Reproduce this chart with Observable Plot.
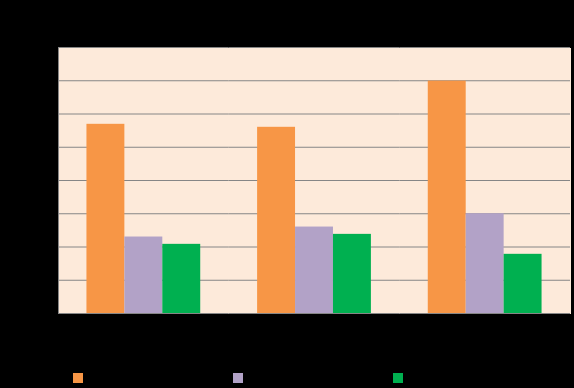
<!DOCTYPE html>
<html><head><meta charset="utf-8">
<script src="https://cdn.jsdelivr.net/npm/d3@7"></script>
<script src="https://cdn.jsdelivr.net/npm/@observablehq/plot@0.6"></script>
<style>
html,body{margin:0;padding:0;background:#000;width:574px;height:388px;overflow:hidden;font-family:"Liberation Sans",Arial,sans-serif}
#chart{position:absolute;left:0;top:0}
#legend{position:absolute;top:371px;left:73px;display:flex;font-size:12px;color:#000}
.item{width:160px;height:14px;display:flex;align-items:center;gap:6px}
.sw{width:10px;height:10px;flex:none}
</style></head>
<body><div id="chart"></div><div id="legend"></div>
<script>
const categories = ["Group 1", "Group 2", "Group 3"];
const seriesNames = ["Series 1", "Series 2", "Series 3"];
const series1 = [5.69, 5.60, 6.99];
const series2 = [2.30, 2.60, 3.00];
const series3 = [2.08, 2.38, 1.78];
const yTicks = [0, 1, 2, 3, 4, 5, 6, 7, 8];
const colors = ["#F79646", "#B2A2C7", "#00B050"];

const allSeries = [series1, series2, series3];
const data = [];
categories.forEach((c, i) => allSeries.forEach((s, j) => data.push({category: c, series: seriesNames[j], value: s[i]})));

const chart = Plot.plot({
  width: 574,
  height: 360,
  marginLeft: 58,
  marginRight: 4,
  marginTop: 47,
  marginBottom: 47,
  style: {background: "#000", color: "#000", fontSize: "12px"},
  fx: {domain: categories, padding: 0, round: false, axis: "bottom", label: null, tickSize: 0},
  x: {domain: seriesNames, paddingInner: 0, paddingOuter: 0.75, round: false, axis: null},
  y: {domain: [0, 8], ticks: yTicks, axis: null},
  color: {domain: seriesNames, range: colors},
  marks: [
    Plot.frame({fill: "#FDEADA", stroke: "none", shapeRendering: "crispEdges", insetRight: -0.5}),
    Plot.ruleY(yTicks, {stroke: "#868686", strokeWidth: 1}),
    Plot.barY(data, {fx: "category", x: "series", y: "value", fill: "series"}),
    Plot.frame({anchor: "left", facetAnchor: "left", stroke: "#868686", strokeWidth: 1}),
    Plot.axisY({ticks: yTicks, tickSize: 0, fill: "#000", label: null})
  ]
});
document.getElementById("chart").appendChild(chart);

const legend = document.getElementById("legend");
seriesNames.forEach((n, i) => {
  const it = document.createElement("div");
  it.className = "item";
  it.innerHTML = `<span class="sw" style="background:${colors[i]}"></span><span>${n}</span>`;
  legend.appendChild(it);
});
</script>
</body></html>
